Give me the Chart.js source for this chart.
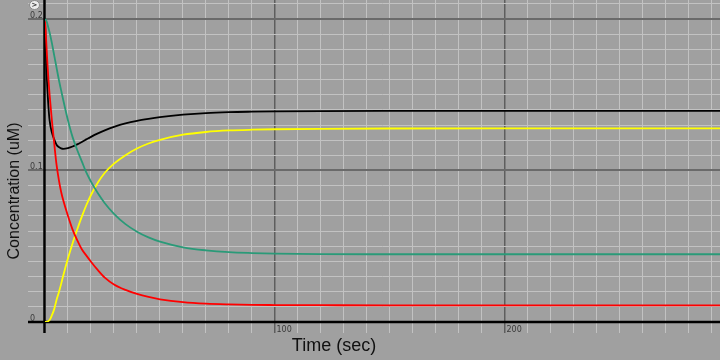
<!DOCTYPE html>
<html>
<head>
<meta charset="utf-8">
<script src="https://cdn.jsdelivr.net/npm/chart.js@4/dist/chart.umd.min.js"></script>
<style>
  html, body { margin: 0; padding: 0; background: #a0a0a0; }
  #wrap { width: 720px; height: 360px; }
</style>
</head>
<body>
<div id="wrap"><canvas id="conc" width="720" height="360"></canvas></div>
<script>
// time in sec, concentrations in uM
var times  = [0, 0.5, 1, 1.5, 2, 3, 4, 5, 6, 7, 8, 10, 12, 14, 16, 18, 20, 23, 26, 30, 35, 40, 45, 50, 60, 70, 80, 90, 100, 120, 150, 200, 250, 293.5];
var black  = [0.200, 0.173, 0.155, 0.142, 0.133, 0.125, 0.1205, 0.117, 0.1155, 0.1146, 0.1143, 0.1148, 0.1158, 0.1172, 0.1188, 0.1205, 0.1222, 0.1245, 0.1265, 0.1288, 0.1311, 0.1328, 0.1341, 0.1352, 0.1368, 0.1379, 0.1385, 0.1388, 0.139, 0.1392, 0.1393, 0.1393, 0.1393, 0.1393];
var green  = [0.200, 0.199, 0.197, 0.194, 0.191, 0.184, 0.176, 0.168, 0.160, 0.153, 0.146, 0.133, 0.122, 0.1135, 0.106, 0.0985, 0.0926, 0.0849, 0.0784, 0.0714, 0.0646, 0.0596, 0.0558, 0.053, 0.0493, 0.0473, 0.0461, 0.0455, 0.0451, 0.0448, 0.0447, 0.0447, 0.0447, 0.0447];
var red    = [0.200, 0.186, 0.172, 0.160, 0.150, 0.133, 0.118, 0.104, 0.094, 0.086, 0.080, 0.070, 0.061, 0.054, 0.048, 0.0438, 0.0398, 0.0342, 0.0293, 0.0248, 0.0212, 0.0185, 0.0165, 0.015, 0.0131, 0.0121, 0.0116, 0.0113, 0.0112, 0.0111, 0.011, 0.011, 0.011, 0.011];
var yellow = [0, 0.0001, 0.0003, 0.0007, 0.0013, 0.0045, 0.0085, 0.0145, 0.0195, 0.025, 0.031, 0.042, 0.052, 0.061, 0.0695, 0.0772, 0.0838, 0.092, 0.0985, 0.1045, 0.1101, 0.1145, 0.1178, 0.1202, 0.1236, 0.1254, 0.1264, 0.1269, 0.1272, 0.1275, 0.1277, 0.1278, 0.1278, 0.1278];

var xLabels = [100, 200];
var yLabels = [0, 0.1, 0.2];
var xTitle = 'Time (sec)';
var yTitle = 'Concentration (uM)';

function pts(vals) {
  return times.map(function (t, i) { return {x: t, y: vals[i]}; });
}

function curve(vals, color) {
  return {
    data: pts(vals),
    borderColor: color,
    borderWidth: 1.8,
    pointRadius: 0,
    fill: false,
    cubicInterpolationMode: 'monotone'
  };
}

var minor = '#c2c2c2';
var major = '#6a6a6a';

// axes, tick labels, titles and the little button
var decor = {
  id: 'decor',
  beforeDatasetsDraw: function (chart) {
    var c = chart.ctx, xs = chart.scales.x, ys = chart.scales.y;
    var x0 = xs.getPixelForValue(0), y0 = ys.getPixelForValue(0);
    c.save();
    c.strokeStyle = '#000';
    c.lineWidth = 2.5;
    c.beginPath();
    c.moveTo(28, y0); c.lineTo(chart.chartArea.right, y0);
    c.moveTo(x0 - 0.5, 0); c.lineTo(x0 - 0.5, 333);
    c.stroke();
    c.restore();
  },
  afterDraw: function (chart) {
    var c = chart.ctx, xs = chart.scales.x, ys = chart.scales.y;
    c.save();
    c.fillStyle = '#3a3a3a';
    c.font = '8px "DejaVu Sans"';
    c.textAlign = 'left';
    c.textBaseline = 'alphabetic';
    yLabels.forEach(function (v) {
      c.fillText(String(v), 30, ys.getPixelForValue(v) - 1);
    });
    xLabels.forEach(function (v) {
      c.fillText(String(v), xs.getPixelForValue(v) + 1.5, 332);
    });

    c.fillStyle = '#111';
    c.textAlign = 'center';
    c.textBaseline = 'middle';
    c.font = '18px "Liberation Sans"';
    c.fillText(xTitle, 334, 346);
    c.translate(15, 191);
    c.rotate(-Math.PI / 2);
    c.font = '16px "Liberation Sans"';
    c.fillText(yTitle, 0, 0);
    c.restore();

    // small ">" button in the corner
    c.save();
    c.beginPath();
    c.ellipse(34.5, 5, 5, 4.5, 0, 0, Math.PI * 2);
    c.fillStyle = '#ececec';
    c.fill();
    c.strokeStyle = '#8a8a8a';
    c.lineWidth = 1;
    c.stroke();
    c.fillStyle = '#333';
    c.font = 'bold 7px "DejaVu Sans"';
    c.textAlign = 'center';
    c.textBaseline = 'middle';
    c.fillText('>', 34.5, 5.5);
    c.restore();
  }
};

new Chart(document.getElementById('conc'), {
  type: 'line',
  data: {
    datasets: [
      curve(green, '#2a9a78'),
      curve(red, '#ff0000'),
      curve(yellow, '#ffff00'),
      curve(black, '#000000')
    ]
  },
  options: {
    responsive: false,
    animation: false,
    layout: { padding: { left: 28, top: 0, right: 0, bottom: 27 } },
    plugins: { legend: { display: false }, tooltip: { enabled: false } },
    scales: {
      x: {
        type: 'linear',
        min: 0,
        max: 293.5,
        afterFit: function (s) { s.height = 11; },
        border: { display: false },
        ticks: { display: false, stepSize: 10, includeBounds: false },
        grid: {
          drawTicks: true,
          tickLength: 11,
          color: function (ctx) { var v = Math.round(ctx.tick.value); return (v > 0 && v % 100 === 0) ? '#5e5e5e' : minor; },
          lineWidth: function (ctx) { var v = Math.round(ctx.tick.value); return (v > 0 && v % 100 === 0) ? 1.5 : 1; }
        }
      },
      y: {
        type: 'linear',
        min: 0,
        max: 0.2125,
        afterFit: function (s) { s.width = 17; },
        border: { display: false },
        ticks: { display: false, stepSize: 0.01, includeBounds: false },
        grid: {
          drawTicks: true,
          tickLength: 17,
          color: function (ctx) { var v = Math.round(ctx.tick.value * 100); return (v > 0 && v % 10 === 0) ? major : minor; },
          lineWidth: function (ctx) { var v = Math.round(ctx.tick.value * 100); return (v > 0 && v % 10 === 0) ? 2 : 1; }
        }
      }
    }
  },
  plugins: [decor]
});
</script>
</body>
</html>
